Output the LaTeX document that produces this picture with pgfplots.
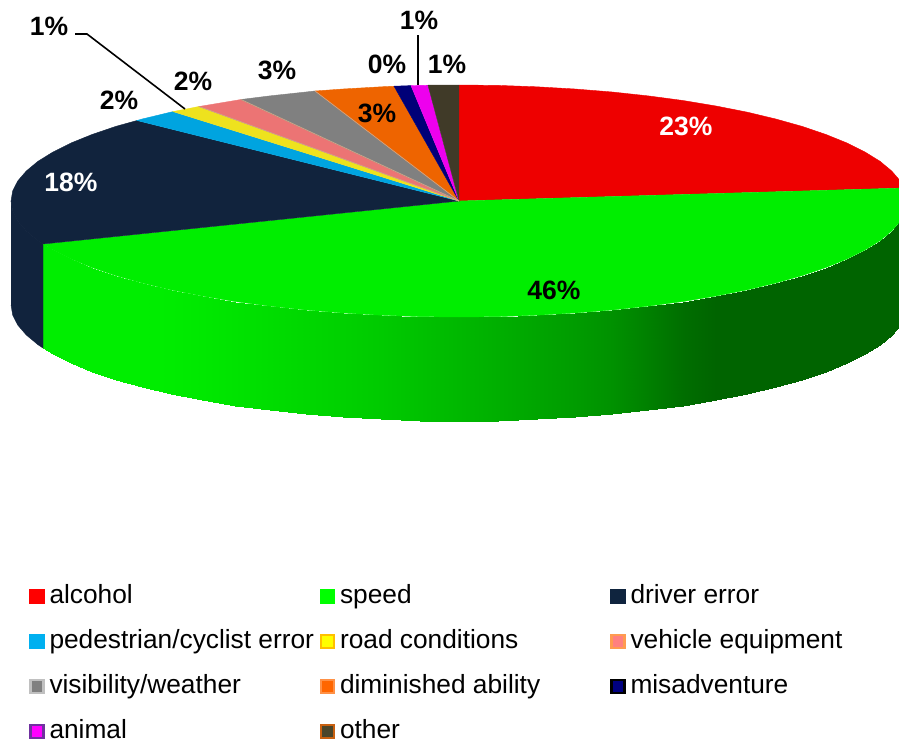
\documentclass[border=0pt]{standalone}
\usepackage{pgfplots}
\pgfplotsset{compat=1.18}
\usepackage{fontspec}
\setmainfont{Liberation Sans}
\definecolor{cAl}{RGB}{238,0,0}
\definecolor{cSp}{RGB}{0,238,0}
\definecolor{cDr}{RGB}{17,35,61}
\definecolor{cPe}{RGB}{0,164,224}
\definecolor{cRo}{RGB}{238,226,30}
\definecolor{cVe}{RGB}{236,116,116}
\definecolor{cVi}{RGB}{128,128,128}
\definecolor{cDi}{RGB}{238,100,0}
\definecolor{cMi}{RGB}{0,0,120}
\definecolor{cAn}{RGB}{238,0,238}
\definecolor{cOt}{RGB}{64,58,40}
\definecolor{lAl}{RGB}{255,0,0}
\definecolor{lSp}{RGB}{0,255,0}
\definecolor{lDr}{RGB}{15,36,62}
\definecolor{lPe}{RGB}{0,176,240}
\definecolor{lRo}{RGB}{255,255,0}
\definecolor{lRoB}{RGB}{255,192,0}
\definecolor{lVe}{RGB}{255,128,128}
\definecolor{lVeB}{RGB}{255,155,80}
\definecolor{lVi}{RGB}{128,128,128}
\definecolor{lViB}{RGB}{192,192,192}
\definecolor{lDi}{RGB}{255,102,0}
\definecolor{lDiB}{RGB}{255,145,70}
\definecolor{lMi}{RGB}{0,0,128}
\definecolor{lAn}{RGB}{255,0,255}
\definecolor{lAnB}{RGB}{112,48,160}
\definecolor{lOt}{RGB}{74,69,42}
\definecolor{lOtB}{RGB}{200,96,16}
\definecolor{spoke}{RGB}{205,165,135}
\pgfplotsset{
  slice/.style={fill=#1,draw=#1,line width=0.4pt,forget plot},
  leg/.style n args={2}{fill=#1,draw=#2,line width=2.5pt},
  leader/.style={black,line width=1.6pt,forget plot,no marks},
  spokeline/.style={spoke,line width=0.7pt,forget plot,no marks}
}
\newcommand{\ent}[1]{\makebox[270pt][l]{#1}}
\newcommand{\entc}[1]{\makebox[240pt][l]{#1}}
\begin{document}
\begin{tikzpicture}
\begin{axis}[
  x=1pt,y=1pt,y dir=reverse,
  xmin=0,xmax=899,ymin=0,ymax=743,
  hide axis,
  colormap={wallc}{rgb255(0cm)=(0,100,0) rgb255(1cm)=(0,238,0)},
  point meta min=100,point meta max=238,
  legend columns=3,
  legend cell align=left,
  legend image code/.code={\draw[#1] (1.3pt,-6.5pt) rectangle (14.3pt,6.5pt);},
  legend style={
    at={(axis cs:29,584)},anchor=north west,draw=none,fill=none,
    inner sep=0pt,outer sep=0pt,
    nodes={inner sep=0pt,font=\fontsize{26.3}{28}\selectfont,text height=19pt,text depth=6pt},
    row sep=20pt,
    /tikz/every odd column/.append style={column sep=5pt},
  },
]
\path (rel axis cs:0,0) rectangle (rel axis cs:1,1);
% side wall (two rows of 33 points, upper rim then lower rim)
\addplot[surf,shader=interp,mesh/cols=33,mesh/rows=2,point meta=explicit,forget plot] table[x=x,y=y,meta=g] {
x y g
907 201 100
905.3 211.1 100
900.2 221.1 100
891.7 231 100
880 240.7 100
865 250 100
847 259 100
826 267.5 100
802.2 275.6 100
775.8 283 100
747 289.9 100
716 296 100
683 301.5 110
648.3 306.1 128
612.2 310 145
574.9 313 156
536.8 315.2 165
498.1 316.6 175
459 317 184
419.9 316.6 193
381.2 315.2 202
343.1 313 209
305.8 310 215
269.7 306.1 221
235 301.5 227
202 296 232
171 289.9 236
142.2 283 238
115.8 275.6 238
92 267.5 238
71 259 238
53 250 238
43 244 238
907 305 100
905.3 315.1 100
900.2 325.1 100
891.7 335 100
880 344.7 100
865 354 100
847 363 100
826 371.5 100
802.2 379.6 100
775.8 387 100
747 393.9 100
716 400 100
683 405.5 110
648.3 410.1 128
612.2 414 145
574.9 417 156
536.8 419.2 165
498.1 420.6 175
459 421 184
419.9 420.6 193
381.2 419.2 202
343.1 417 209
305.8 414 215
269.7 410.1 221
235 405.5 227
202 400 232
171 393.9 236
142.2 387 238
115.8 379.6 238
92 371.5 238
71 363 238
53 354 238
43 348 238
};
% driver error wall
\addplot[slice=cDr] coordinates {(11,201)(12.7,211.1)(17.8,221.1)(26.3,231)(38,240.7)(43,244)(43,348)(38,344.7)(26.3,335)(17.8,325.1)(12.7,315.1)(11,305)};
% top slices
\addplot[slice=cAl] coordinates {(459,201)(459,85)(498.1,85.4)(536.8,86.8)(574.9,89)(612.2,92)(648.3,95.9)(683,100.5)(716,106)(747,112.1)(775.8,119)(802.2,126.4)(826,134.5)(847,143)(865,152)(880,161.3)(891.7,171)(900.2,180.9)(904,188)};
\addplot[slice=cSp] coordinates {(459,201)(904,188)(905.3,190.9)(907,201)(905.3,211.1)(900.2,221.1)(891.7,231)(880,240.7)(865,250)(847,259)(826,267.5)(802.2,275.6)(775.8,283)(747,289.9)(716,296)(683,301.5)(648.3,306.1)(612.2,310)(574.9,313)(536.8,315.2)(498.1,316.6)(459,317)(419.9,316.6)(381.2,315.2)(343.1,313)(305.8,310)(269.7,306.1)(235,301.5)(202,296)(171,289.9)(142.2,283)(115.8,275.6)(92,267.5)(71,259)(53,250)(43,244)};
\addplot[slice=cDr] coordinates {(459,201)(43,244)(38,240.7)(26.3,231)(17.8,221.1)(12.7,211.1)(11,201)(12.7,190.9)(17.8,180.9)(26.3,171)(38,161.3)(53,152)(71,143)(92,134.5)(115.8,126.4)(137,120.5)};
\addplot[slice=cPe] coordinates {(459,201)(137,120.5)(142.2,119)(173,111.6)};
\addplot[slice=cRo] coordinates {(459,201)(173,111.6)(199,106.5)};
\addplot[slice=cVe] coordinates {(459,201)(199,106.5)(235,100.5)(241,99.5)};
\addplot[slice=cVi] coordinates {(459,201)(241,99.5)(269.7,95.9)(305.8,92)(315,91)};
\addplot[slice=cDi] coordinates {(459,201)(315,91)(343.1,89)(381.2,86.8)(394,86.2)};
\addplot[slice=cMi] coordinates {(459,201)(394,86.2)(411,85.6)};
\addplot[slice=cAn] coordinates {(459,201)(411,85.6)(419.9,85.4)(428,85.2)};
\addplot[slice=cOt] coordinates {(459,201)(428,85.2)(459,85)};
% light seams between the slices
\addplot[spokeline] coordinates {(459,201)(241,99.5)};
\addplot[spokeline] coordinates {(459,201)(315,91)};
\addplot[spokeline] coordinates {(459,201)(199,106.5)};
% leaders
\addplot[leader] coordinates {(75,34)(87,34)(185,109)};
\addplot[leader] coordinates {(417.7,35)(417.7,85)};
% legend
\addlegendimage{leg={lAl}{lAl}}\addlegendentry{\ent{alcohol}}
\addlegendimage{leg={lSp}{lSp}}\addlegendentry{\ent{speed}}
\addlegendimage{leg={lDr}{lDr}}\addlegendentry{\entc{driver error}}
\addlegendimage{leg={lPe}{lPe}}\addlegendentry{\ent{pedestrian/cyclist error}}
\addlegendimage{leg={lRo}{lRoB}}\addlegendentry{\ent{road conditions}}
\addlegendimage{leg={lVe}{lVeB}}\addlegendentry{\entc{vehicle equipment}}
\addlegendimage{leg={lVi}{lViB}}\addlegendentry{\ent{visibility/weather}}
\addlegendimage{leg={lDi}{lDiB}}\addlegendentry{\ent{diminished ability}}
\addlegendimage{leg={lMi}{black}}\addlegendentry{\entc{misadventure}}
\addlegendimage{leg={lAn}{lAnB}}\addlegendentry{\ent{animal}}
\addlegendimage{leg={lOt}{lOtB}}\addlegendentry{\ent{other}}
% data labels
\tikzset{dl/.style={font=\fontsize{26.5}{28}\selectfont\bfseries,inner sep=0pt}}
\node[dl,white] at (axis cs:686,126) {23\%};
\node[dl,black] at (axis cs:554,290) {46\%};
\node[dl,white] at (axis cs:71,182) {18\%};
\node[dl] at (axis cs:119,100) {2\%};
\node[dl] at (axis cs:49,26) {1\%};
\node[dl] at (axis cs:193,81) {2\%};
\node[dl] at (axis cs:277,70) {3\%};
\node[dl] at (axis cs:377,113) {3\%};
\node[dl] at (axis cs:387,64) {0\%};
\node[dl] at (axis cs:419,20) {1\%};
\node[dl] at (axis cs:447,64) {1\%};
\end{axis}
\end{tikzpicture}
\end{document}
